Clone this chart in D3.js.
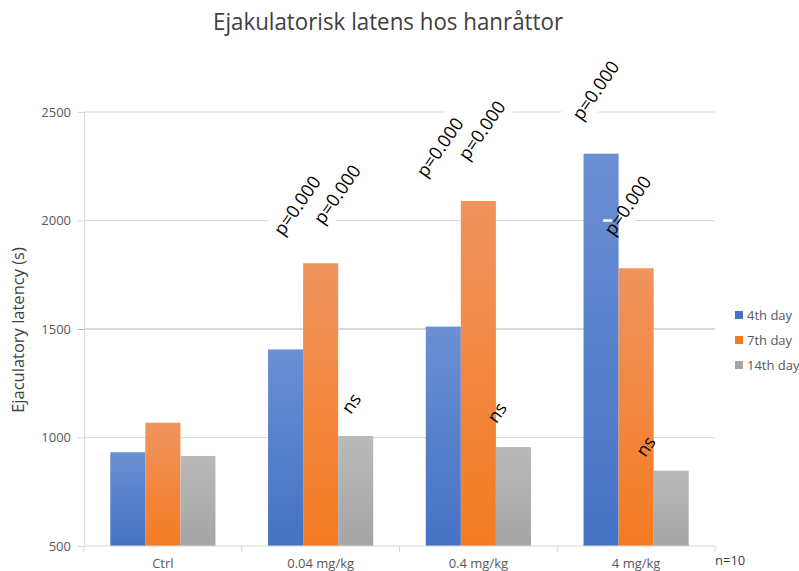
<!DOCTYPE html>
<html>
<head>
<meta charset="utf-8">
<script src="https://cdn.jsdelivr.net/npm/d3@7/dist/d3.min.js"></script>
<style>
  html, body { margin: 0; padding: 0; background: #ffffff; }
  svg { display: block; font-family: "Open Sans", "Noto Sans", sans-serif; }
</style>
</head>
<body>
<svg id="chart" width="799" height="571"></svg>
<script>
// Groups along the x axis and the three measurement days
const categories = ["Ctrl", "0.04 mg/kg", "0.4 mg/kg", "4 mg/kg"];
const seriesNames = ["4th day", "7th day", "14th day"];

// Mean ejaculatory latency (s) per group, one array per day
const day4 = [932, 1406, 1511, 2308];
const day7 = [1068, 1803, 2090, 1780];
const day14 = [915, 1007, 956, 847];

const yTicks = [500, 1000, 1500, 2000, 2500];

// Statistical notes: group, day bar they refer to, text, level (s) of the label centre
const noteGroups = ["0.04 mg/kg", "0.04 mg/kg", "0.4 mg/kg", "0.4 mg/kg", "4 mg/kg", "4 mg/kg",
                    "0.04 mg/kg", "0.4 mg/kg", "4 mg/kg"];
const noteSeries = ["4th day", "7th day", "4th day", "7th day", "4th day", "7th day",
                    "14th day", "14th day", "14th day"];
const noteTexts = ["p=0.000", "p=0.000", "p=0.000", "p=0.000", "p=0.000", "p=0.000",
                   "ns", "ns", "ns"];
const noteLevels = [2071, 2122, 2339, 2417, 2601, 2071, 1159, 1117, 961];
// horizontal nudge (px) of each note relative to its bar centre
const noteNudge = [11, 16, -4, 3, -6, -9, -5, -17, -26];

const colors = {
  "4th day": ["#6b8fd3", "#4472c4"],
  "7th day": ["#f0945e", "#f47b22"],
  "14th day": ["#bababa", "#a5a5a5"]
};

const seriesValues = [day4, day7, day14];
const rows = categories.map((c, i) => ({
  category: c,
  values: seriesNames.map((s, j) => ({ series: s, value: seriesValues[j][i] }))
}));

const svg = d3.select("#chart");
const plotLeft = 84, plotRight = 715, plotTop = 112, plotBottom = 546;

const x0 = d3.scaleBand().domain(categories).range([plotLeft, plotRight]).paddingInner(0).paddingOuter(0);
const x1 = d3.scaleBand().domain(seriesNames).range([0, x0.bandwidth()]).paddingInner(0).paddingOuter(0.75);
const y = d3.scaleLinear().domain([500, 2500]).range([plotBottom, plotTop]);

// gradients for bar fills
const defs = svg.append("defs");
seriesNames.forEach((s, i) => {
  const g = defs.append("linearGradient").attr("id", "grad" + i)
    .attr("x1", 0).attr("y1", 0).attr("x2", 0).attr("y2", 1);
  g.append("stop").attr("offset", "0%").attr("stop-color", colors[s][0]);
  g.append("stop").attr("offset", "100%").attr("stop-color", colors[s][1]);
});

// title
svg.append("text")
  .attr("x", 388).attr("y", 30)
  .attr("text-anchor", "middle")
  .attr("font-size", 23)
  .attr("textLength", 350)
  .attr("lengthAdjust", "spacingAndGlyphs")
  .attr("fill", "#404040")
  .text("Ejakulatorisk latens hos hanråttor");

// horizontal gridlines
svg.append("g").selectAll("line")
  .data(yTicks.filter(t => t > 500))
  .join("line")
  .attr("x1", plotLeft).attr("x2", plotRight)
  .attr("y1", d => y(d)).attr("y2", d => y(d))
  .attr("stroke", d => d === 1500 ? "#b4b4b4" : "#d9d9d9")
  .attr("stroke-width", 1);

// y axis
const yAxis = svg.append("g")
  .attr("transform", `translate(${plotLeft},0)`)
  .call(d3.axisLeft(y).tickValues(yTicks).tickSize(6).tickPadding(7).tickFormat(d3.format("d")));
yAxis.select(".domain").attr("stroke", "#d9d9d9");
yAxis.selectAll(".tick line").attr("stroke", d => d === 1500 ? "#b4b4b4" : "#d9d9d9");
yAxis.selectAll(".tick text")
  .attr("font-size", 13).attr("fill", "#595959")
  .attr("font-family", "'Open Sans', sans-serif");

// y axis title
svg.append("text")
  .attr("transform", "translate(24,330) rotate(-90)")
  .attr("text-anchor", "middle")
  .attr("font-size", 16.5)
  .attr("fill", "#404040")
  .text("Ejaculatory latency (s)");

// note placement helper
const notes = noteTexts.map((t, i) => ({
  text: t,
  cx: x0(noteGroups[i]) + x1(noteSeries[i]) + x1.bandwidth() / 2 + noteNudge[i],
  cy: y(noteLevels[i])
}));

// white boxes behind the p-value notes (they mask the gridlines)
const pNotes = notes.filter(n => n.text !== "ns");
svg.append("g").selectAll("rect")
  .data(pNotes)
  .join("rect")
  .attr("transform", d => `translate(${d.cx},${d.cy}) rotate(-55)`)
  .attr("x", -54).attr("y", -15)
  .attr("width", 108).attr("height", 30)
  .attr("fill", "#ffffff");

// bars
const groups = svg.append("g").selectAll("g")
  .data(rows)
  .join("g")
  .attr("transform", d => `translate(${x0(d.category)},0)`);

groups.selectAll("rect")
  .data(d => d.values)
  .join("rect")
  .attr("x", d => x1(d.series))
  .attr("y", d => y(d.value))
  .attr("width", x1.bandwidth())
  .attr("height", d => y(500) - y(d.value))
  .attr("fill", d => `url(#grad${seriesNames.indexOf(d.series)})`);

// small white mark left by the last text box over the 4 mg/kg bar
svg.append("line")
  .attr("x1", notes[5].cx - 24).attr("x2", notes[5].cx - 15)
  .attr("y1", y(2000)).attr("y2", y(2000))
  .attr("stroke", "#ffffff").attr("stroke-width", 2.5);

// x axis baseline and ticks
svg.append("line")
  .attr("x1", plotLeft).attr("x2", plotRight)
  .attr("y1", plotBottom).attr("y2", plotBottom)
  .attr("stroke", "#d9d9d9");
const bounds = categories.map(c => x0(c)).concat([plotRight]);
svg.append("g").selectAll("line")
  .data(bounds)
  .join("line")
  .attr("x1", d => d).attr("x2", d => d)
  .attr("y1", plotBottom).attr("y2", plotBottom + 6)
  .attr("stroke", "#d9d9d9");

// category labels
svg.append("g").selectAll("text")
  .data(categories)
  .join("text")
  .attr("x", d => x0(d) + x0.bandwidth() / 2)
  .attr("y", 568)
  .attr("text-anchor", "middle")
  .attr("font-size", 13)
  .attr("fill", "#595959")
  .text(d => d);

// sample size
svg.append("text")
  .attr("x", 715).attr("y", 565)
  .attr("font-size", 13)
  .attr("fill", "#404040")
  .text("n=10");

// notes text
svg.append("g").selectAll("text")
  .data(notes)
  .join("text")
  .attr("transform", d => `translate(${d.cx},${d.cy}) rotate(-55)`)
  .attr("text-anchor", "middle")
  .attr("dominant-baseline", "central")
  .attr("font-size", 18)
  .attr("fill", "#000000")
  .text(d => d.text);

// legend
const legend = svg.append("g").attr("transform", "translate(735,315)");
const li = legend.selectAll("g")
  .data(seriesNames)
  .join("g")
  .attr("transform", (d, i) => `translate(0,${i * 25})`);
li.append("rect")
  .attr("x", 0).attr("y", -4)
  .attr("width", 8).attr("height", 8)
  .attr("fill", d => colors[d][1]);
li.append("text")
  .attr("x", 12).attr("y", 0)
  .attr("dominant-baseline", "central")
  .attr("font-size", 13)
  .attr("fill", "#595959")
  .text(d => d);
</script>
</body>
</html>
